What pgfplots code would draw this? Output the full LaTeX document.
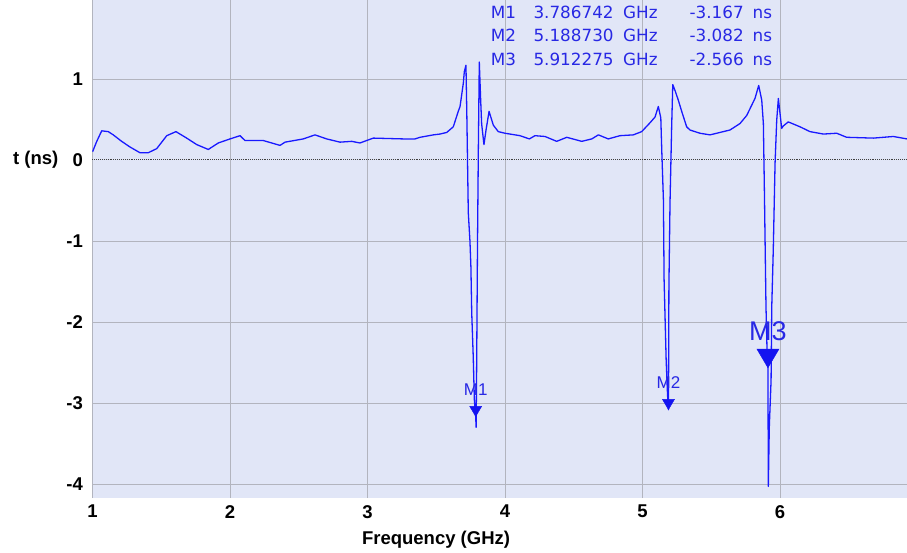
\documentclass[border=0pt]{standalone}
\usepackage{pgfplots}
\pgfplotsset{compat=1.18}
\usepackage{fontspec}
\setmainfont{Liberation Sans}
\newfontfamily\readfont{DejaVu Sans}

\definecolor{plotbg}{RGB}{225,230,247}
\definecolor{gridgray}{RGB}{178,180,190}
\definecolor{trace}{RGB}{25,25,255}
\definecolor{readout}{RGB}{40,40,228}
\definecolor{mkblue}{RGB}{20,20,240}

% downward triangle whose tip sits on the data point
\pgfdeclareplotmark{markerdown}{%
  \pgfpathmoveto{\pgfqpoint{0pt}{0pt}}%
  \pgfpathlineto{\pgfqpoint{-\pgfplotmarksize}{1.7\pgfplotmarksize}}%
  \pgfpathlineto{\pgfqpoint{\pgfplotmarksize}{1.7\pgfplotmarksize}}%
  \pgfpathclose
  \pgfusepathqfillstroke}

\begin{document}
\begin{tikzpicture}[x=1pt,y=1pt]
\path[use as bounding box] (0,0) rectangle (907,552);
\begin{axis}[
  at={(92.5pt,54pt)}, anchor=south west,
  scale only axis, width=814.5pt, height=498pt,
  xmin=1, xmax=6.9236, ymin=-4.173, ymax=1.975,
  axis background/.style={fill=plotbg},
  axis line style={draw=none},
  major tick length=0pt,
  xtick={1,2,3,4,5,6},
  xticklabels={1,2,3,4,5,6},
  ytick={-4,-3,-2,-1,1},
  yticklabels={-4,-3,-2,-1,1},
  extra y ticks={0},
  extra y tick labels={0},
  extra y tick style={grid style={densely dotted, black!75, line width=1pt}},
  grid=major,
  grid style={gridgray, line width=0.9pt},
  ticklabel style={font=\bfseries\fontsize{18.5}{20}\selectfont, inner sep=0pt},
  xticklabel style={anchor=north, yshift=-7pt},
  yticklabel style={anchor=east, xshift=-9.5pt},
  xlabel={Frequency (GHz)},
  ylabel={t (ns)},
  every axis x label/.style={at={(axis description cs:0.4218,0)}, anchor=north,
    yshift=-33pt, inner sep=0pt, font=\bfseries\fontsize{18.5}{20}\selectfont},
  every axis y label/.style={at={(axis description cs:0,0.6788)}, anchor=east,
    xshift=-34pt, inner sep=0pt, font=\bfseries\fontsize{18.5}{20}\selectfont},
]
% group delay trace
\addplot[trace, line width=1.3pt, line join=round] coordinates {
(1.000,0.10) (1.031,0.23) (1.067,0.36) (1.115,0.35) (1.151,0.31) (1.212,0.23)
(1.273,0.16) (1.345,0.09) (1.406,0.09) (1.467,0.14) (1.540,0.30) (1.607,0.35)
(1.685,0.27) (1.758,0.19) (1.842,0.13) (1.915,0.21) (2.000,0.26) (2.073,0.30)
(2.109,0.24) (2.242,0.24) (2.364,0.18) (2.400,0.22) (2.533,0.26) (2.618,0.31)
(2.703,0.26) (2.800,0.22) (2.885,0.23) (2.945,0.21) (3.042,0.27) (3.260,0.26)
(3.345,0.26) (3.382,0.28) (3.479,0.31) (3.527,0.32) (3.576,0.34) (3.624,0.41)
(3.660,0.60) (3.673,0.66) (3.697,0.95) (3.704,1.09) (3.716,1.17) (3.722,0.60)
(3.733,-0.65) (3.745,-1.00) (3.752,-1.32) (3.758,-1.89) (3.769,-2.43) (3.777,-2.96)
(3.786742,-3.167) (3.790,-3.30) (3.794,-2.50) (3.800,-1.03) (3.806,0.12) (3.813,1.21)
(3.823,0.74) (3.830,0.45) (3.835,0.37) (3.847,0.19) (3.862,0.37) (3.884,0.60)
(3.915,0.43) (3.951,0.35) (4.000,0.33) (4.109,0.30) (4.177,0.26) (4.218,0.30)
(4.291,0.29) (4.376,0.23) (4.449,0.28) (4.558,0.23) (4.631,0.26) (4.679,0.31)
(4.751,0.26) (4.836,0.30) (4.933,0.31) (4.994,0.35) (5.055,0.46) (5.091,0.53)
(5.115,0.66) (5.133,0.52) (5.140,0.12) (5.152,-0.49) (5.157,-1.48) (5.172,-2.47)
(5.182,-2.90) (5.188730,-3.082) (5.192,-1.56) (5.200,-0.53) (5.212,0.41) (5.220,0.93)
(5.236,0.86) (5.260,0.74) (5.285,0.60) (5.321,0.41) (5.345,0.37) (5.418,0.33)
(5.491,0.31) (5.636,0.37) (5.709,0.45) (5.758,0.55) (5.818,0.76) (5.845,0.92)
(5.867,0.74) (5.879,0.45) (5.886,-0.33) (5.898,-1.81) (5.905,-2.30) (5.912275,-2.566)
(5.915,-4.03) (5.922,-3.30) (5.935,-2.72) (5.940,-1.81) (5.951,-1.11) (5.964,-0.04)
(5.976,0.49) (5.988,0.76) (6.012,0.39) (6.024,0.42) (6.060,0.47) (6.145,0.41)
(6.218,0.35) (6.315,0.32) (6.412,0.33) (6.485,0.28) (6.679,0.27) (6.824,0.29)
(6.9236,0.26)
};
% markers M1, M2
\addplot[only marks, mark=markerdown, mark size=6pt, mkblue,
  point meta=explicit symbolic, nodes near coords,
  every node near coord/.style={anchor=south, inner sep=0pt, yshift=21pt,
    text=readout, font=\fontsize{17}{18}\selectfont}]
  coordinates {(3.786742,-3.167) [M1] (5.188730,-3.082) [M2]};
% active marker M3
\addplot[only marks, mark=markerdown, mark size=11pt, mkblue,
  point meta=explicit symbolic, nodes near coords,
  every node near coord/.style={anchor=south, inner sep=0pt, yshift=27pt,
    text=readout, font=\fontsize{27}{28}\selectfont}]
  coordinates {(5.912275,-2.566) [M3]};
\end{axis}
% marker readout table
\begin{scope}[every node/.style={inner sep=0pt, text=readout, font=\readfont\fontsize{16.8}{18}\selectfont}]
\node[anchor=base west] at (490.7,533) {M1};
\node[anchor=base west] at (533.3,533) {3.786742};
\node[anchor=base west] at (623,533) {GHz};
\node[anchor=base east] at (744,533) {-3.167};
\node[anchor=base west] at (752.5,533) {ns};
\node[anchor=base west] at (490.7,510.3) {M2};
\node[anchor=base west] at (533.3,510.3) {5.188730};
\node[anchor=base west] at (623,510.3) {GHz};
\node[anchor=base east] at (744,510.3) {-3.082};
\node[anchor=base west] at (752.5,510.3) {ns};
\node[anchor=base west] at (490.7,486.3) {M3};
\node[anchor=base west] at (533.3,486.3) {5.912275};
\node[anchor=base west] at (623,486.3) {GHz};
\node[anchor=base east] at (744,486.3) {-2.566};
\node[anchor=base west] at (752.5,486.3) {ns};
\end{scope}
\end{tikzpicture}
\end{document}
